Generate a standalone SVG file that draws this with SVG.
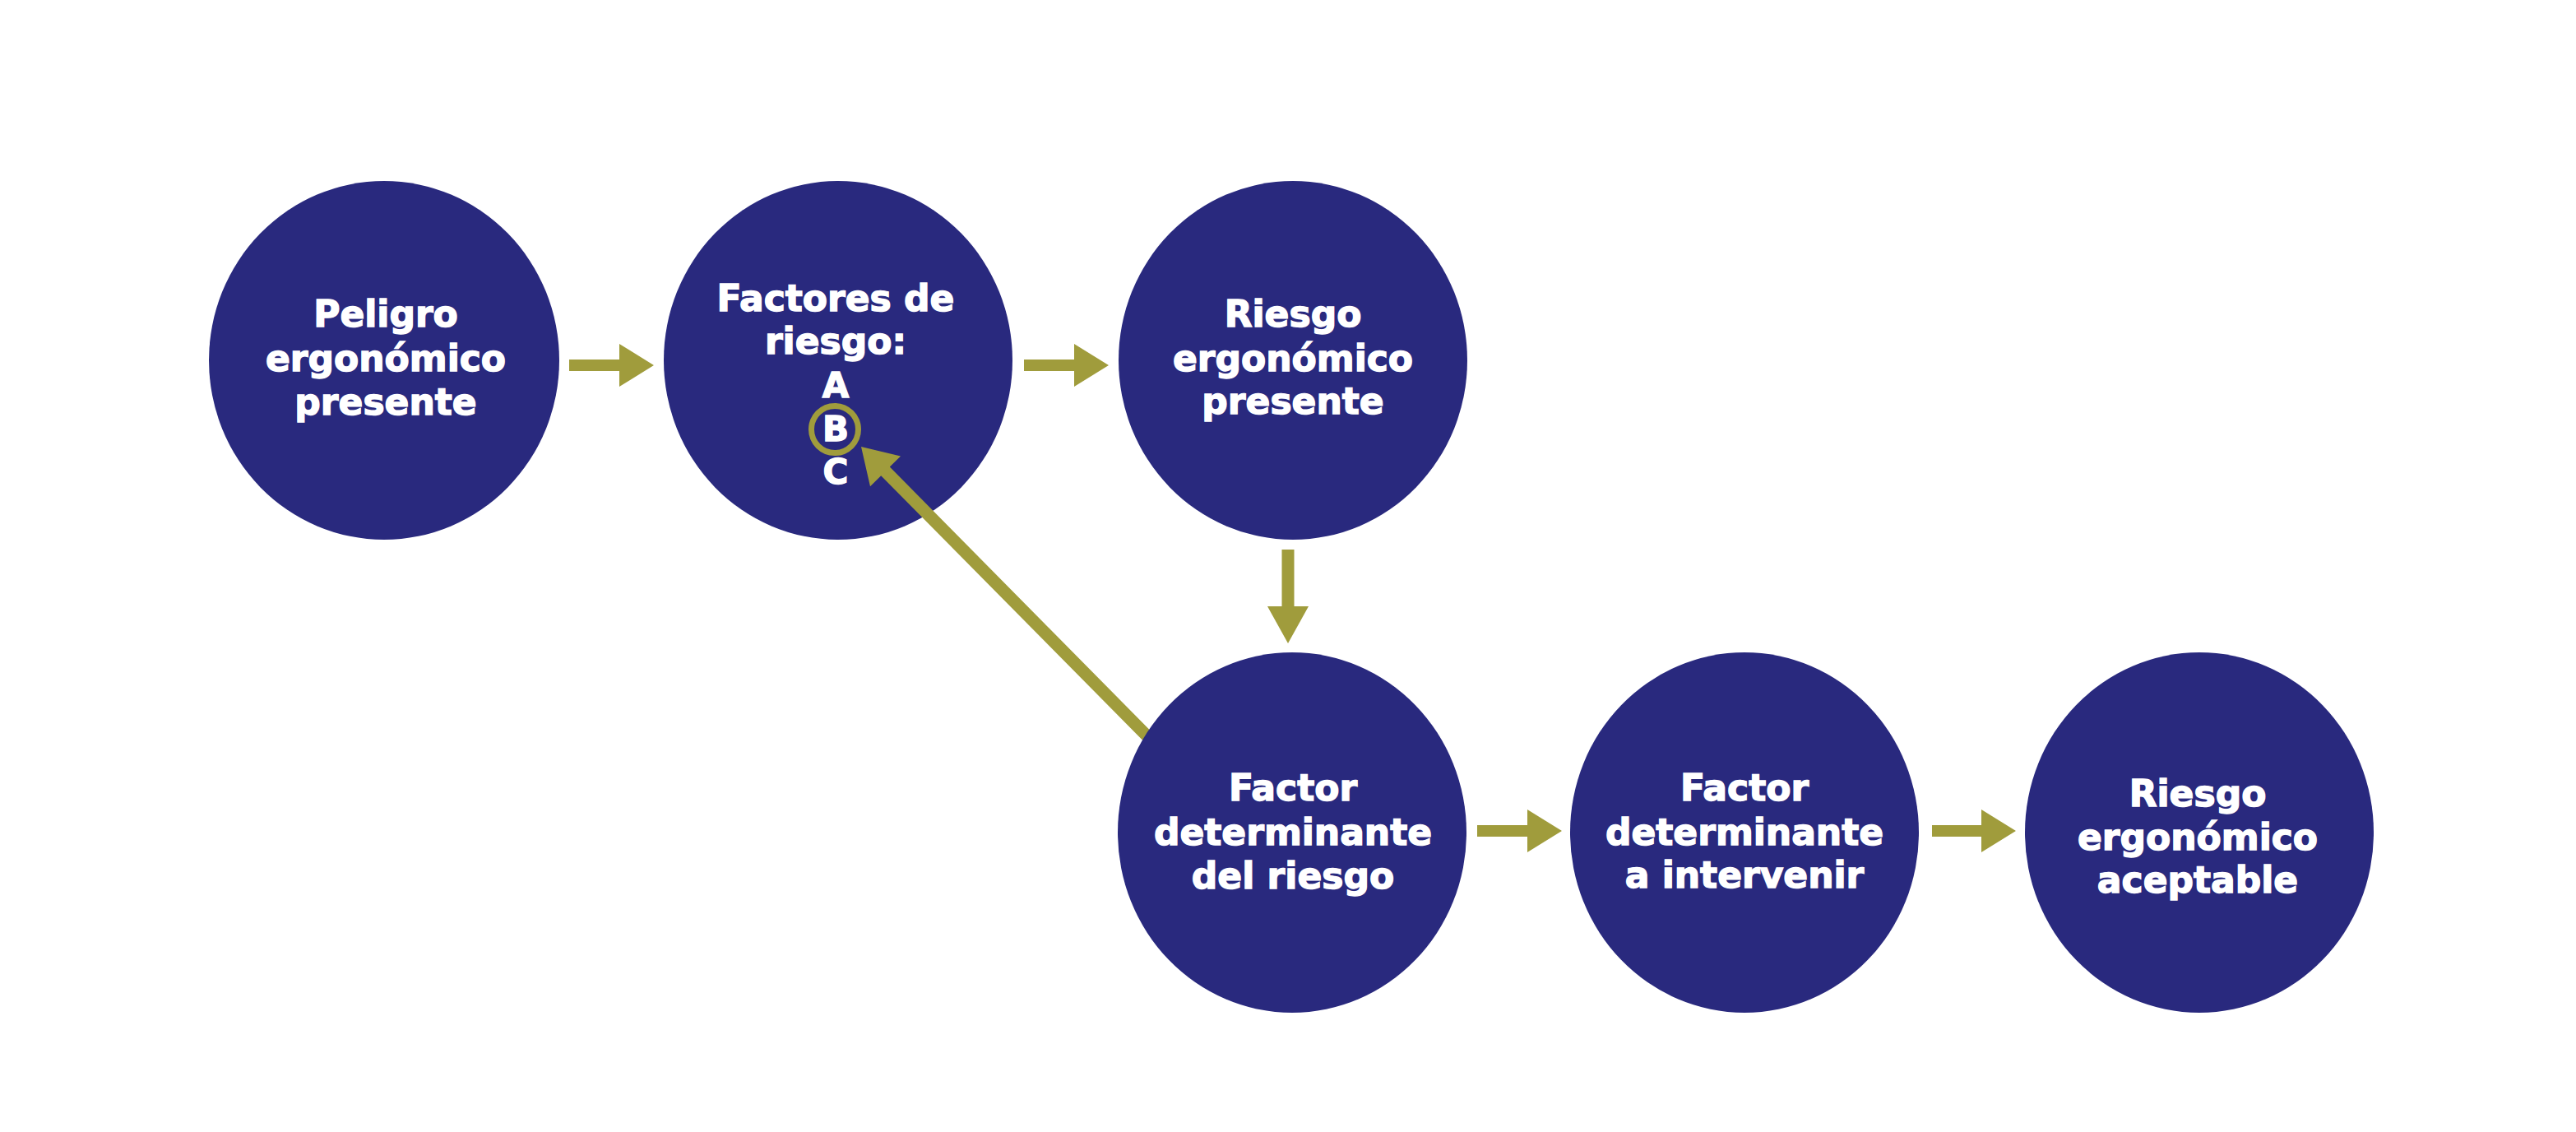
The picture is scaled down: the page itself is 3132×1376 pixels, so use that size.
<svg xmlns="http://www.w3.org/2000/svg" width="3132" height="1376" viewBox="0 0 3132 1376">
<style>
.node{fill:#29297e}
.lbl{font-family:"DejaVu Sans","Verdana","Liberation Sans",sans-serif;font-weight:bold;font-size:44px;fill:#ffffff;stroke:#ffffff;stroke-width:1.4;text-anchor:middle}
.let{font-size:42px}
.arrow{fill:#a09c3c}
.ring{fill:none;stroke:#a09c3c;stroke-width:7}
</style>
<rect x="0" y="0" width="3132" height="1376" fill="#ffffff"/>
<g id="node-peligro">
<ellipse class="node" cx="467" cy="438" rx="213" ry="218"/>
<text class="lbl" x="469" y="397">Peligro</text>
<text class="lbl" x="469" y="451">ergonómico</text>
<text class="lbl" x="469" y="504">presente</text>
</g>
<g id="node-factores">
<ellipse class="node" cx="1019" cy="438" rx="212" ry="218"/>
<text class="lbl" x="1016" y="378">Factores de</text>
<text class="lbl" x="1016" y="430">riesgo:</text>
<text class="lbl let" x="1016" y="483">A</text>
<circle class="ring" cx="1015" cy="522" r="28.5"/>
<text class="lbl let" x="1016" y="536">B</text>
<text class="lbl let" x="1016" y="588">C</text>
</g>
<g id="node-riesgo-presente">
<ellipse class="node" cx="1572" cy="438" rx="212" ry="218"/>
<text class="lbl" x="1572" y="397">Riesgo</text>
<text class="lbl" x="1572" y="451">ergonómico</text>
<text class="lbl" x="1572" y="503">presente</text>
</g>
<g id="connectors">
<polygon class="arrow" points="692,437 753,437 753,418 795,444 753,470 753,451 692,451"/>
<polygon class="arrow" points="1245,437 1306,437 1306,418 1348,444 1306,470 1306,451 1245,451"/>
<polygon class="arrow" points="1558.5,668 1573.5,668 1573.5,737 1591,737 1566,782 1541,737 1558.5,737"/>
<polygon class="arrow" points="1796,1003 1857,1003 1857,984 1899,1010 1857,1036 1857,1017 1796,1017"/>
<polygon class="arrow" points="2349,1003 2409,1003 2409,984 2451,1010 2409,1036 2409,1017 2349,1017"/>
<polygon class="arrow" points="1047,543 1095,554.6 1081.8,567.6 1446,935.9 1435.4,946.5 1071.2,578.2 1058,591.2"/>
</g>
<g id="node-factor-determinante">
<ellipse class="node" cx="1571" cy="1012" rx="212" ry="219"/>
<text class="lbl" x="1572" y="973">Factor</text>
<text class="lbl" x="1572" y="1027">determinante</text>
<text class="lbl" x="1572" y="1080">del riesgo</text>
</g>
<g id="node-intervenir">
<ellipse class="node" cx="2121" cy="1012" rx="212" ry="219"/>
<text class="lbl" x="2121" y="973">Factor</text>
<text class="lbl" x="2121" y="1027">determinante</text>
<text class="lbl" x="2121" y="1079">a intervenir</text>
</g>
<g id="node-aceptable">
<ellipse class="node" cx="2674" cy="1012" rx="212" ry="219"/>
<text class="lbl" x="2672" y="980">Riesgo</text>
<text class="lbl" x="2672" y="1033">ergonómico</text>
<text class="lbl" x="2672" y="1085">aceptable</text>
</g>
</svg>
